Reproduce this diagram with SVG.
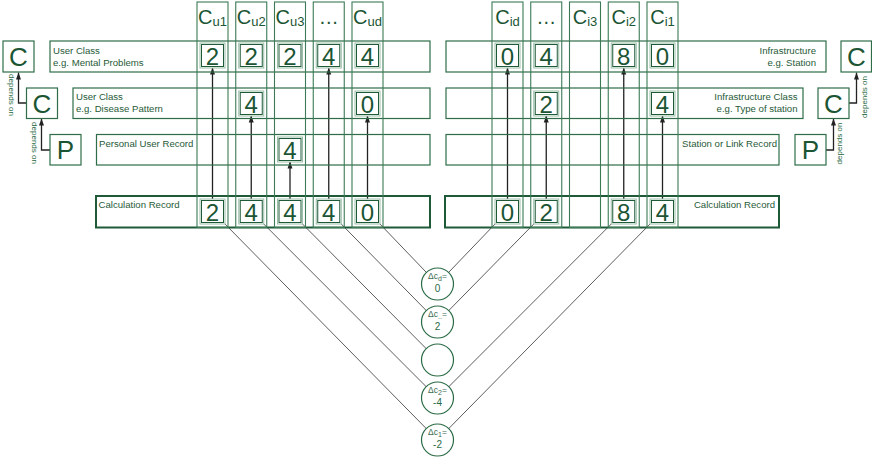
<svg xmlns="http://www.w3.org/2000/svg" width="872" height="458" viewBox="0 0 872 458">
<style>
.box{fill:none;stroke:#2f6d49;stroke-width:1.2}
.calc{fill:none;stroke:#1f5a38;stroke-width:2}
.col{fill:none;stroke:#3b7a55;stroke-width:1.1}
.valo{fill:#fff;stroke:#9cbfa8;stroke-width:1}
.val{fill:none;stroke:#1f5a38;stroke-width:1}
.num{font-family:"Liberation Sans",Arial,sans-serif;font-size:24px;fill:#1b5534;text-anchor:middle}
.big{font-family:"Liberation Sans",Arial,sans-serif;font-size:26px;fill:#1b5534;text-anchor:middle}
.hdr{font-family:"Liberation Sans",Arial,sans-serif;font-size:20px;fill:#1b5534;text-anchor:middle}
.lbl{font-family:"Liberation Sans",Arial,sans-serif;font-size:9.6px;fill:#1f5a38}
.r{text-anchor:end}
.dep{font-family:"Liberation Sans",Arial,sans-serif;font-size:8px;fill:#2a6b45;text-anchor:middle}
.arr{stroke:#222;stroke-width:1.3;fill:none;marker-end:url(#ah)}
.diag{stroke:#333;stroke-width:0.8;fill:none}
.circ{fill:#fff;stroke:#2a6b45;stroke-width:1.2}
.ct{font-family:"Liberation Sans",Arial,sans-serif;font-size:8.5px;fill:#3a6b4f;text-anchor:middle}
.cv{font-family:"Liberation Sans",Arial,sans-serif;font-size:10px;fill:#2a6b45;text-anchor:middle}
</style>
<defs>
<marker id="ah" markerWidth="7" markerHeight="6" refX="7" refY="3" orient="auto" markerUnits="userSpaceOnUse"><path d="M0,0.5 L7,3 L0,5.5 z" fill="#222"/></marker>
</defs>
<rect width="872" height="458" fill="#fff"/>

<!-- connectors -->
<g id="connectors">
  <!-- diagonals left -->
  <line class="diag" x1="379" y1="223" x2="437.5" y2="284"/>
  <line class="diag" x1="340.25" y1="223" x2="437.5" y2="322"/>
  <line class="diag" x1="301.5" y1="223" x2="437.5" y2="360"/>
  <line class="diag" x1="262.75" y1="223" x2="437.5" y2="398"/>
  <line class="diag" x1="224" y1="223" x2="437.5" y2="440"/>
  <!-- diagonals right -->
  <line class="diag" x1="496" y1="223" x2="437.5" y2="284"/>
  <line class="diag" x1="534.75" y1="223" x2="437.5" y2="322"/>
  <line class="diag" x1="612.25" y1="223" x2="437.5" y2="398"/>
  <line class="diag" x1="651" y1="223" x2="437.5" y2="440"/>
  <!-- vertical arrows -->
  <line class="arr" x1="212.5" y1="200" x2="212.5" y2="67.5"/>
  <line class="arr" x1="251.25" y1="200" x2="251.25" y2="115.5"/>
  <line class="arr" x1="290" y1="200" x2="290" y2="161.5"/>
  <line class="arr" x1="328.75" y1="200" x2="328.75" y2="67.5"/>
  <line class="arr" x1="367.5" y1="200" x2="367.5" y2="115.5"/>
  <line class="arr" x1="507.5" y1="200" x2="507.5" y2="67.5"/>
  <line class="arr" x1="546.25" y1="200" x2="546.25" y2="115.5"/>
  <line class="arr" x1="623.75" y1="200" x2="623.75" y2="67.5"/>
  <line class="arr" x1="662.5" y1="200" x2="662.5" y2="115.5"/>
  <!-- depends on -->
  <polyline class="arr" points="26,103 18.5,103 18.5,72.5"/>
  <polyline class="arr" points="50,150 41.5,150 41.5,118.5"/>
  <polyline class="arr" points="849,103 856.5,103 856.5,72.5"/>
  <polyline class="arr" points="826,150 833.5,150 833.5,118.5"/>
  <text class="dep" transform="translate(8.5,95) rotate(90)">depends on</text>
  <text class="dep" transform="translate(32,143) rotate(90)">depends on</text>
  <text class="dep" transform="translate(867,97) rotate(-90)">depends on</text>
  <text class="dep" transform="translate(842,143.5) rotate(-90)">depends on</text>
</g>

<!-- left rows -->
<g id="row-user-class-1">
  <rect class="box" x="50" y="41" width="380" height="31"/>
  <text class="lbl" x="53" y="54">User Class</text>
  <text class="lbl" x="53" y="65.5">e.g. Mental Problems</text>
</g>
<g id="row-user-class-2">
  <rect class="box" x="73" y="88" width="357" height="30.5"/>
  <text class="lbl" x="76" y="100">User Class</text>
  <text class="lbl" x="76" y="111.7">e.g. Disease Pattern</text>
</g>
<g id="row-personal">
  <rect class="box" x="96.5" y="134.5" width="333.5" height="30.5"/>
  <text class="lbl" x="99" y="146.7">Personal User Record</text>
</g>
<g id="row-calc-left">
  <rect class="calc" x="96" y="196" width="334" height="31.5"/>
  <text class="lbl" x="98.5" y="207.5">Calculation Record</text>
</g>

<!-- right rows -->
<g id="row-infra">
  <rect class="box" x="446" y="41" width="380" height="31"/>
  <text class="lbl r" x="816" y="54">Infrastructure</text>
  <text class="lbl r" x="816" y="65.7">e.g. Station</text>
</g>
<g id="row-infra-class">
  <rect class="box" x="446" y="88" width="357" height="30.5"/>
  <text class="lbl r" x="797.5" y="100">Infrastructure Class</text>
  <text class="lbl r" x="797.5" y="111.7">e.g. Type of station</text>
</g>
<g id="row-station">
  <rect class="box" x="446" y="134.5" width="333" height="30.5"/>
  <text class="lbl r" x="777" y="146.7">Station or Link Record</text>
</g>
<g id="row-calc-right">
  <rect class="calc" x="445" y="196" width="334" height="31.5"/>
  <text class="lbl r" x="775" y="207.5">Calculation Record</text>
</g>

<!-- columns -->
<g id="col-cu1">
  <rect class="col" x="197" y="2" width="31" height="225.5"/>
  <text class="hdr" x="212.5" y="23.5">C<tspan font-size="13" dy="2">u1</tspan></text>
  <rect class="valo" x="200" y="43" width="25" height="25"/><rect class="val" x="201.5" y="44.5" width="22" height="22"/><text class="num" x="212.5" y="64.5">2</text>
  <rect class="valo" x="200" y="199" width="25" height="25"/><rect class="val" x="201.5" y="200.5" width="22" height="22"/><text class="num" x="212.5" y="220.5">2</text>
</g>
<g id="col-cu2">
  <rect class="col" x="235.75" y="2" width="31" height="225.5"/>
  <text class="hdr" x="251.25" y="23.5">C<tspan font-size="13" dy="2">u2</tspan></text>
  <rect class="valo" x="238.75" y="43" width="25" height="25"/><rect class="val" x="240.25" y="44.5" width="22" height="22"/><text class="num" x="251.25" y="64.5">2</text>
  <rect class="valo" x="238.75" y="91" width="25" height="25"/><rect class="val" x="240.25" y="92.5" width="22" height="22"/><text class="num" x="251.25" y="112.5">4</text>
  <rect class="valo" x="238.75" y="199" width="25" height="25"/><rect class="val" x="240.25" y="200.5" width="22" height="22"/><text class="num" x="251.25" y="220.5">4</text>
</g>
<g id="col-cu3">
  <rect class="col" x="274.5" y="2" width="31" height="225.5"/>
  <text class="hdr" x="290" y="23.5">C<tspan font-size="13" dy="2">u3</tspan></text>
  <rect class="valo" x="277.5" y="43" width="25" height="25"/><rect class="val" x="279" y="44.5" width="22" height="22"/><text class="num" x="290" y="64.5">2</text>
  <rect class="valo" x="277.5" y="137" width="25" height="25"/><rect class="val" x="279" y="138.5" width="22" height="22"/><text class="num" x="290" y="158.5">4</text>
  <rect class="valo" x="277.5" y="199" width="25" height="25"/><rect class="val" x="279" y="200.5" width="22" height="22"/><text class="num" x="290" y="220.5">4</text>
</g>
<g id="col-cu-dots">
  <rect class="col" x="313.25" y="2" width="31" height="225.5"/>
  <text class="hdr" x="328.75" y="23.5">…</text>
  <rect class="valo" x="316.25" y="43" width="25" height="25"/><rect class="val" x="317.75" y="44.5" width="22" height="22"/><text class="num" x="328.75" y="64.5">4</text>
  <rect class="valo" x="316.25" y="199" width="25" height="25"/><rect class="val" x="317.75" y="200.5" width="22" height="22"/><text class="num" x="328.75" y="220.5">4</text>
</g>
<g id="col-cud">
  <rect class="col" x="352" y="2" width="31" height="225.5"/>
  <text class="hdr" x="367.5" y="23.5">C<tspan font-size="13" dy="2">ud</tspan></text>
  <rect class="valo" x="355" y="43" width="25" height="25"/><rect class="val" x="356.5" y="44.5" width="22" height="22"/><text class="num" x="367.5" y="64.5">4</text>
  <rect class="valo" x="355" y="91" width="25" height="25"/><rect class="val" x="356.5" y="92.5" width="22" height="22"/><text class="num" x="367.5" y="112.5">0</text>
  <rect class="valo" x="355" y="199" width="25" height="25"/><rect class="val" x="356.5" y="200.5" width="22" height="22"/><text class="num" x="367.5" y="220.5">0</text>
</g>

<g id="col-cid">
  <rect class="col" x="492" y="2" width="31" height="225.5"/>
  <text class="hdr" x="507.5" y="23.5">C<tspan font-size="13" dy="2">id</tspan></text>
  <rect class="valo" x="495" y="43" width="25" height="25"/><rect class="val" x="496.5" y="44.5" width="22" height="22"/><text class="num" x="507.5" y="64.5">0</text>
  <rect class="valo" x="495" y="199" width="25" height="25"/><rect class="val" x="496.5" y="200.5" width="22" height="22"/><text class="num" x="507.5" y="220.5">0</text>
</g>
<g id="col-ci-dots">
  <rect class="col" x="530.75" y="2" width="31" height="225.5"/>
  <text class="hdr" x="546.25" y="23.5">…</text>
  <rect class="valo" x="533.75" y="43" width="25" height="25"/><rect class="val" x="535.25" y="44.5" width="22" height="22"/><text class="num" x="546.25" y="64.5">4</text>
  <rect class="valo" x="533.75" y="91" width="25" height="25"/><rect class="val" x="535.25" y="92.5" width="22" height="22"/><text class="num" x="546.25" y="112.5">2</text>
  <rect class="valo" x="533.75" y="199" width="25" height="25"/><rect class="val" x="535.25" y="200.5" width="22" height="22"/><text class="num" x="546.25" y="220.5">2</text>
</g>
<g id="col-ci3">
  <rect class="col" x="569.5" y="2" width="31" height="225.5"/>
  <text class="hdr" x="585" y="23.5">C<tspan font-size="13" dy="2">i3</tspan></text>
</g>
<g id="col-ci2">
  <rect class="col" x="608.25" y="2" width="31" height="225.5"/>
  <text class="hdr" x="623.75" y="23.5">C<tspan font-size="13" dy="2">i2</tspan></text>
  <rect class="valo" x="611.25" y="43" width="25" height="25"/><rect class="val" x="612.75" y="44.5" width="22" height="22"/><text class="num" x="623.75" y="64.5">8</text>
  <rect class="valo" x="611.25" y="199" width="25" height="25"/><rect class="val" x="612.75" y="200.5" width="22" height="22"/><text class="num" x="623.75" y="220.5">8</text>
</g>
<g id="col-ci1">
  <rect class="col" x="647" y="2" width="31" height="225.5"/>
  <text class="hdr" x="662.5" y="23.5">C<tspan font-size="13" dy="2">i1</tspan></text>
  <rect class="valo" x="650" y="43" width="25" height="25"/><rect class="val" x="651.5" y="44.5" width="22" height="22"/><text class="num" x="662.5" y="64.5">0</text>
  <rect class="valo" x="650" y="91" width="25" height="25"/><rect class="val" x="651.5" y="92.5" width="22" height="22"/><text class="num" x="662.5" y="112.5">4</text>
  <rect class="valo" x="650" y="199" width="25" height="25"/><rect class="val" x="651.5" y="200.5" width="22" height="22"/><text class="num" x="662.5" y="220.5">4</text>
</g>

<!-- dependency boxes -->
<g id="left-c1"><rect class="box" x="3" y="41" width="31" height="31"/><text class="big" x="18.5" y="65.5">C</text></g>
<g id="left-c2"><rect class="box" x="26.5" y="88" width="31" height="30.5"/><text class="big" x="42" y="112.5">C</text></g>
<g id="left-p"><rect class="box" x="50" y="134.5" width="31" height="30.5"/><text class="big" x="65.5" y="159">P</text></g>
<g id="right-c1"><rect class="box" x="841" y="41" width="30.5" height="31"/><text class="big" x="856.3" y="65.5">C</text></g>
<g id="right-c2"><rect class="box" x="818" y="88" width="31" height="30.5"/><text class="big" x="833.5" y="112.5">C</text></g>
<g id="right-p"><rect class="box" x="795" y="134.5" width="31" height="30.5"/><text class="big" x="810.5" y="159">P</text></g>

<!-- delta circles -->
<g id="delta-d"><circle class="circ" cx="437.5" cy="284" r="16"/><text class="ct" x="437.5" y="279">Δc<tspan font-size="7" dy="1.5">d</tspan><tspan dy="-1.5">=</tspan></text><text class="cv" x="437.5" y="292">0</text></g>
<g id="delta-dots"><circle class="circ" cx="437.5" cy="322" r="16"/><text class="ct" x="437.5" y="317">Δc<tspan font-size="7" dy="1.5">..</tspan><tspan dy="-1.5">=</tspan></text><text class="cv" x="437.5" y="330">2</text></g>
<g id="delta-3"><circle class="circ" cx="437.5" cy="360" r="16"/></g>
<g id="delta-2"><circle class="circ" cx="437.5" cy="398" r="16"/><text class="ct" x="437.5" y="393">Δc<tspan font-size="7" dy="1.5">2</tspan><tspan dy="-1.5">=</tspan></text><text class="cv" x="437.5" y="406">-4</text></g>
<g id="delta-1"><circle class="circ" cx="437.5" cy="440" r="16"/><text class="ct" x="437.5" y="435">Δc<tspan font-size="7" dy="1.5">1</tspan><tspan dy="-1.5">=</tspan></text><text class="cv" x="437.5" y="448">-2</text></g>
</svg>
